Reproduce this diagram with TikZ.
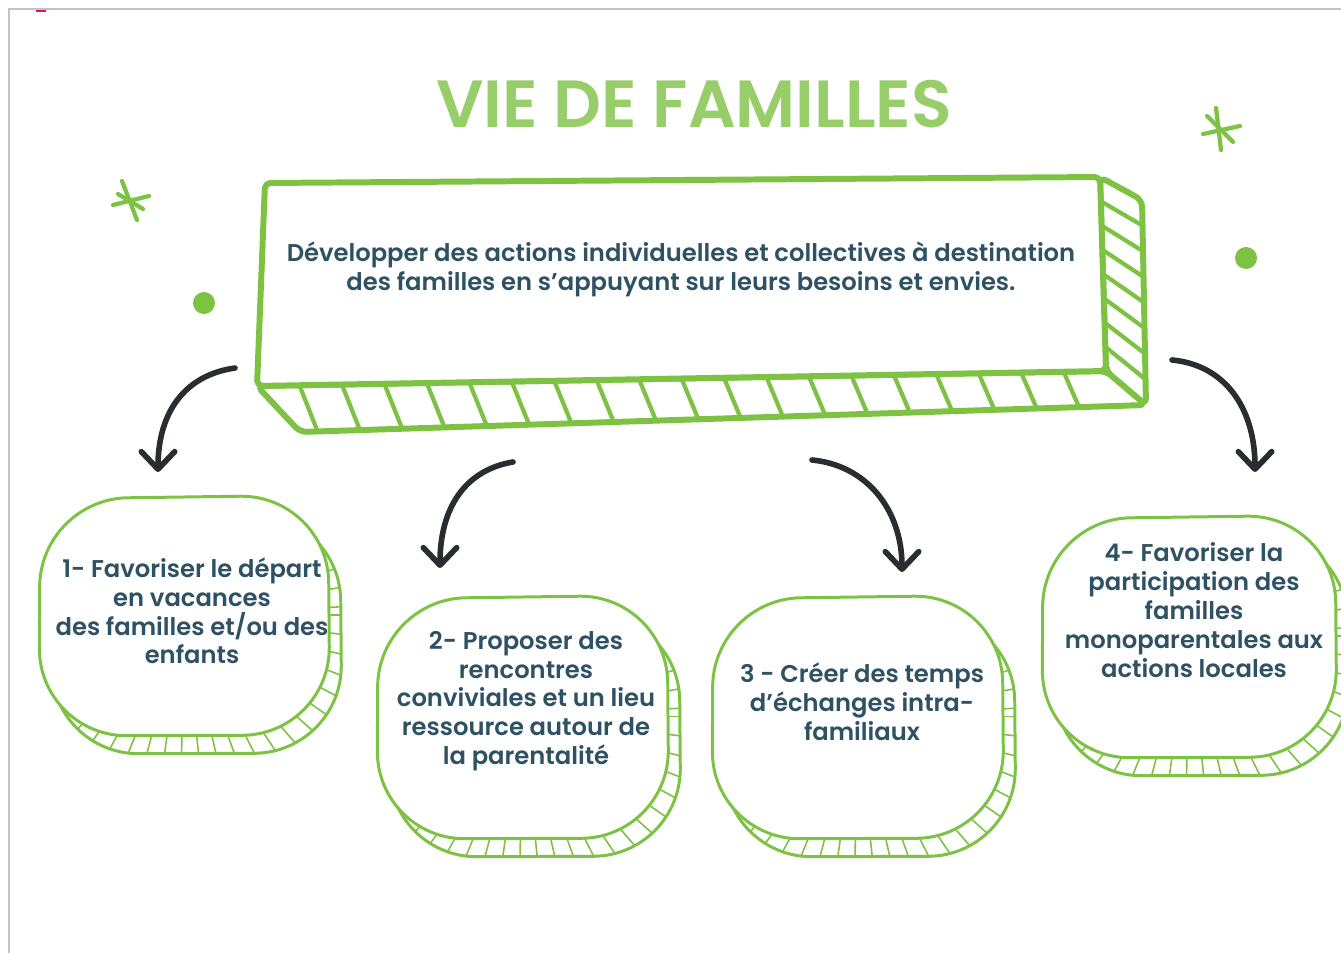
\documentclass[tikz,border=0pt]{standalone}
\usepackage{xcolor}
\usepackage{fontspec}
\setmainfont{Poppins SemiBold}
\usepackage{tikz}
\usetikzlibrary{arrows.meta,calc}

\definecolor{leaf}{HTML}{7DC243}
\definecolor{ink}{HTML}{2F5164}
\definecolor{pen}{HTML}{2A2D30}
\definecolor{framegray}{HTML}{C4C4C4}

% sketched box: name, x1, y1, x2, y2 (px, y downwards)
\newcommand{\hatchbox}[5]{%
  \coordinate (#1) at ({(#2+#4)/2},{(#3+#5)/2});
  \begin{scope}[shift={(12,18)}]
    \fill[white, rounded corners=50] (#2,#3+4) -- (#4,#3) -- (#4+2,#5) -- (#2-1,#5+1) -- cycle;
    \begin{scope}
      \clip[rounded corners=50] (#2,#3+4) -- (#4,#3) -- (#4+2,#5) -- (#2-1,#5+1) -- cycle;
      \foreach \a in {0,7,...,359} \draw[boxhatch] (#1) -- ++(\a:300);
    \end{scope}
    \draw[boxline, rounded corners=50] (#2,#3+4) -- (#4,#3) -- (#4+2,#5) -- (#2-1,#5+1) -- cycle;
  \end{scope}
  \filldraw[boxline, fill=white, rounded corners=50] (#2,#3+4) -- (#4,#3) -- (#4+2,#5) -- (#2-1,#5+1) -- cycle;
}

\begin{document}
\begin{tikzpicture}[
  x=0.02cm, y=-0.02cm,
  mainline/.style={draw=leaf, line width=3.4pt, line join=round},
  mainhatch/.style={leaf, line width=2.4pt, line cap=round},
  boxline/.style={draw=leaf, line width=1.7pt},
  boxhatch/.style={leaf, line width=0.9pt},
  txt/.style={text=ink, font=\fontsize{13.8}{16.4}\selectfont, align=center, inner sep=0pt},
  arrow/.style={pen, line width=3.2pt, line cap=round,
                -{Straight Barb[length=10pt, width=19pt, round]}},
  starline/.style={leaf, line width=2.4pt, line cap=round}
]
\useasboundingbox (0,0) rectangle (1341,953);
\fill[white] (0,0) rectangle (1341,953);

% page frame
\draw[framegray, line width=1.1pt] (1341,9) -- (9,9) -- (9,953);
\draw[magenta!70!red, line width=1.1pt] (36,11) -- (46,11);

% title
\node[text=leaf!80!white, font=\fontsize{38}{40}\selectfont] (title) at (694,104) {VIE DE FAMILLES};

% decorations
\draw[starline] (122,181) -- (137,220);
\draw[starline] (113,205) -- (149,196);
\draw[starline] (118,194) -- (143,209);
\draw[starline] (1216,108) -- (1221,150);
\draw[starline] (1203,134) -- (1240,126);
\draw[starline] (1207,116) -- (1233,142);
\fill[leaf] (204,303) circle (11);
\fill[leaf] (1246,258) circle (11);

% main block
\coordinate (f1) at (265,183);
\coordinate (f2) at (1100,177);
\coordinate (f3) at (1106,371);
\coordinate (f4) at (257,386);
\coordinate (b2) at (1142,200);
\coordinate (b3) at (1146,405);
\coordinate (b4) at (300,432);
\filldraw[mainline, fill=white, rounded corners=4] (f4) -- (f3) -- (b3) -- (b4) -- cycle;
\filldraw[mainline, fill=white, rounded corners=4] (f2) -- (b2) -- (b3) -- (f3) -- cycle;
\foreach \i in {1,...,19}
  \draw[mainhatch] ($(f4)!\i/20!(f3)$) -- ($(b4)!\i/20!(b3)+(-25,0)$);
\foreach \i in {1,...,7}
  \draw[mainhatch] ($(f2)!\i/8!(f3)$) -- ($(b2)!\i/8!(b3)$);
\filldraw[mainline, fill=white, rounded corners=3] (f1) -- (f2) -- (f3) -- (f4) -- cycle;
\node[txt] (goal) at (681,269) {Développer des actions individuelles et collectives à destination\\des familles en s’appuyant sur leurs besoins et envies.};

% objectives
\hatchbox{box1}{40}{495}{328}{735}
\hatchbox{box2}{378}{595}{667}{838}
\hatchbox{box3}{713}{595}{1002}{838}
\hatchbox{box4}{1043}{515}{1335}{757}

\node[txt] (obj1) at (192,611) {1- Favoriser le départ\\en vacances\\des familles et/ou des\\enfants};
\node[txt] (obj2) at (526,701) {2- Proposer des\\rencontres\\conviviales et un lieu\\ressource autour de\\la parentalité};
\node[txt] (obj3) at (862,702) {3 - Créer des temps\\d’échanges intra-\\familiaux};
\node[txt] (obj4) at (1194,610) {4- Favoriser la\\participation des\\familles\\monoparentales aux\\actions locales};

% arrows
\coordinate (a1s) at (235,368);  \coordinate (a1e) at (158,472);
\coordinate (a2s) at (513,462);  \coordinate (a2e) at (440,568);
\coordinate (a3s) at (812,460);  \coordinate (a3e) at (902,572);
\coordinate (a4s) at (1172,360); \coordinate (a4e) at (1255,472);
\draw[arrow] (a1s) .. controls (185,375) and (158,412) .. (a1e);
\draw[arrow] (a2s) .. controls (465,470) and (440,508) .. (a2e);
\draw[arrow] (a3s) .. controls (865,465) and (902,508) .. (a3e);
\draw[arrow] (a4s) .. controls (1225,365) and (1255,408) .. (a4e);
\end{tikzpicture}
\end{document}
